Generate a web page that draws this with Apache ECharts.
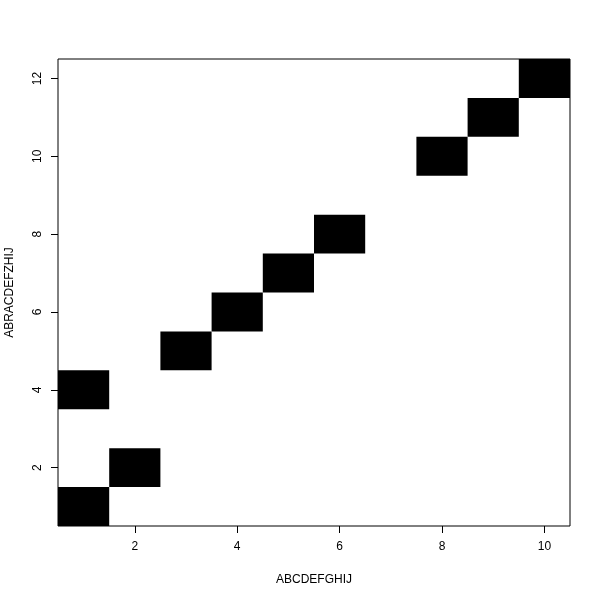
<!DOCTYPE html>
<html>
<head>
<meta charset="utf-8">
<script src="https://cdn.jsdelivr.net/npm/echarts@6/dist/echarts.min.js"></script>
<style>html,body{margin:0;padding:0;background:#fff}#c{width:600px;height:600px}</style>
</head>
<body>
<div id="c"></div>
<script>
var xLabel = "ABCDEFGHIJ";
var yLabel = "ABRACDEFZHIJ";
var cellX = [1, 2, 1, 3, 4, 5, 6, 8, 9, 10];
var cellY = [1, 2, 4, 5, 6, 7, 8, 10, 11, 12];
var xTicks = [2, 4, 6, 8, 10];
var yTicks = [2, 4, 6, 8, 10, 12];

var data = cellX.map(function (x, i) { return [x, cellY[i]]; });
var chart = echarts.init(document.getElementById('c'), null, {renderer: 'canvas'});
var font = 'Liberation Sans, Arial, sans-serif';
chart.setOption({
  animation: false,
  backgroundColor: '#fff',
  grid: {left: 58, right: 30, top: 59, bottom: 74, outerBoundsMode: 'none', show: true, borderColor: '#000', borderWidth: 1, backgroundColor: 'transparent'},
  xAxis: {
    type: 'value', min: 0.5, max: 10.5,
    name: xLabel, nameLocation: 'middle', nameGap: 48,
    nameTextStyle: {color: '#000', fontSize: 12, fontFamily: font},
    axisLine: {show: false},
    splitLine: {show: false},
    axisTick: {show: true, length: 7, lineStyle: {color: '#000'}, customValues: xTicks},
    axisLabel: {color: '#000', fontSize: 12, fontFamily: font, margin: 15, customValues: xTicks}
  },
  yAxis: {
    type: 'value', min: 0.5, max: 12.5,
    name: yLabel, nameLocation: 'middle', nameGap: 42,
    nameTextStyle: {color: '#000', fontSize: 12, fontFamily: font},
    axisLine: {show: false},
    splitLine: {show: false},
    axisTick: {show: true, length: 7, lineStyle: {color: '#000'}, customValues: yTicks},
    axisLabel: {color: '#000', fontSize: 12, fontFamily: font, margin: 14, rotate: 90, customValues: yTicks}
  },
  series: [{
    type: 'custom',
    data: data,
    clip: true,
    renderItem: function (params, api) {
      var x = api.value(0), y = api.value(1);
      var p1 = api.coord([x - 0.5, y + 0.5]);
      var p2 = api.coord([x + 0.5, y - 0.5]);
      return {type: 'rect', shape: {x: p1[0], y: p1[1], width: p2[0] - p1[0], height: p2[1] - p1[1]}, style: {fill: '#000'}};
    }
  }]
});
</script>
</body>
</html>
